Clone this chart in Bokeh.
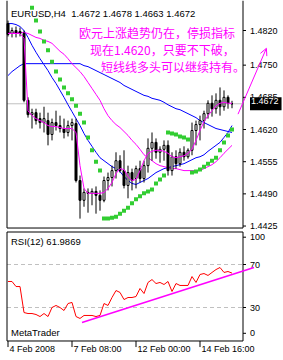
from bokeh.plotting import figure
from bokeh.layouts import column
from bokeh.models import Label, Range1d, Arrow, OpenHead
from bokeh.core.properties import value
from bokeh.embed import file_html
from bokeh.resources import INLINE

FONT = "Liberation Sans"
CJK = "Noto Sans CJK SC"

# ---------------- data ----------------
x_tick_bars = [0, 16, 32, 48]
x_tick_labels = ["4 Feb 2008", "7 Feb 08:00", "12 Feb 00:00", "14 Feb 16:00"]
price_ticks = [1.4425, 1.4490, 1.4555, 1.4620, 1.4685, 1.4750, 1.4820]
price_tick_labels = ["1.4425", "1.4490", "1.4555", "1.4620", "1.4685", "1.4750", "1.4820"]
rsi_tick_pos = [6, 30, 70, 95.4]
rsi_tick_labels = ["0", "30", "70", "100"]
rsi_levels = [30, 70]

opens = [1.4834, 1.4814, 1.4820, 1.4818, 1.4814, 1.4679, 1.4650, 1.4654, 1.4642, 1.4634,
         1.4638, 1.4610, 1.4634, 1.4628, 1.4622, 1.4614, 1.4628, 1.4632, 1.4517, 1.4477,
         1.4493, 1.4491, 1.4495, 1.4487, 1.4477, 1.4517, 1.4523, 1.4537, 1.4557, 1.4537,
         1.4507, 1.4533, 1.4521, 1.4541, 1.4521, 1.4547, 1.4582, 1.4594, 1.4574, 1.4580,
         1.4588, 1.4537, 1.4565, 1.4551, 1.4574, 1.4565, 1.4578, 1.4618, 1.4630, 1.4638,
         1.4652, 1.4673, 1.4662, 1.4679, 1.4666, 1.4685, 1.4672]
highs = [1.4840, 1.4826, 1.4828, 1.4826, 1.4820, 1.4685, 1.4662, 1.4662, 1.4654, 1.4666,
         1.4654, 1.4642, 1.4658, 1.4648, 1.4642, 1.4638, 1.4642, 1.4642, 1.4527, 1.4501,
         1.4501, 1.4501, 1.4505, 1.4497, 1.4525, 1.4533, 1.4547, 1.4574, 1.4568, 1.4578,
         1.4547, 1.4541, 1.4547, 1.4557, 1.4557, 1.4602, 1.4614, 1.4602, 1.4586, 1.4598,
         1.4598, 1.4574, 1.4578, 1.4582, 1.4586, 1.4582, 1.4634, 1.4638, 1.4648, 1.4658,
         1.4679, 1.4689, 1.4693, 1.4705, 1.4699, 1.4689, 1.4678]
lows = [1.4808, 1.4806, 1.4806, 1.4808, 1.4675, 1.4644, 1.4622, 1.4630, 1.4622, 1.4614,
        1.4588, 1.4598, 1.4618, 1.4614, 1.4602, 1.4606, 1.4598, 1.4513, 1.4440, 1.4464,
        1.4452, 1.4467, 1.4450, 1.4456, 1.4473, 1.4497, 1.4505, 1.4521, 1.4533, 1.4501,
        1.4481, 1.4497, 1.4501, 1.4513, 1.4513, 1.4533, 1.4557, 1.4561, 1.4553, 1.4557,
        1.4527, 1.4527, 1.4541, 1.4545, 1.4557, 1.4561, 1.4568, 1.4588, 1.4598, 1.4622,
        1.4642, 1.4646, 1.4652, 1.4648, 1.4658, 1.4662, 1.4663]
closes = [1.4812, 1.4820, 1.4816, 1.4814, 1.4679, 1.4650, 1.4654, 1.4638, 1.4634, 1.4642,
          1.4610, 1.4634, 1.4628, 1.4622, 1.4614, 1.4628, 1.4634, 1.4517, 1.4477, 1.4493,
          1.4491, 1.4495, 1.4487, 1.4477, 1.4517, 1.4523, 1.4537, 1.4557, 1.4537, 1.4507,
          1.4533, 1.4517, 1.4541, 1.4521, 1.4547, 1.4582, 1.4594, 1.4574, 1.4580, 1.4588,
          1.4537, 1.4565, 1.4551, 1.4574, 1.4565, 1.4578, 1.4618, 1.4630, 1.4638, 1.4652,
          1.4673, 1.4662, 1.4679, 1.4666, 1.4685, 1.4673, 1.4672]

ma_magenta_fast = [1.4814, 1.4814, 1.4814, 1.4814, 1.4804, 1.4658, 1.4648, 1.4642, 1.4638, 1.4634,
                   1.4628, 1.4626, 1.4626, 1.4624, 1.4622, 1.4622, 1.4622, 1.4614, 1.4547, 1.4501,
                   1.4491, 1.4491, 1.4491, 1.4491, 1.4493, 1.4501, 1.4513, 1.4531, 1.4541, 1.4539,
                   1.4525, 1.4517, 1.4519, 1.4537, 1.4557, 1.4572, 1.4576, 1.4578, 1.4578, 1.4576,
                   1.4572, 1.4565, 1.4563, 1.4565, 1.4567, 1.4572, 1.4580, 1.4598, 1.4618, 1.4636,
                   1.4648, 1.4658, 1.4668, 1.4673, 1.4675, 1.4673, 1.4673]
ma_magenta_slow = [1.4816, 1.4816, 1.4816, 1.4816, 1.4816, 1.4814, 1.4810, 1.4806, 1.4804, 1.4800,
                   1.4798, 1.4794, 1.4786, 1.4778, 1.4772, 1.4763, 1.4753, 1.4745, 1.4737, 1.4727,
                   1.4715, 1.4703, 1.4691, 1.4679, 1.4662, 1.4648, 1.4638, 1.4630, 1.4624, 1.4616,
                   1.4608, 1.4598, 1.4590, 1.4580, 1.4569, 1.4563, 1.4557, 1.4551, 1.4547, 1.4545,
                   1.4543, 1.4541, 1.4541, 1.4539, 1.4537, 1.4537, 1.4537, 1.4537, 1.4537, 1.4541,
                   1.4545, 1.4549, 1.4555, 1.4563, 1.4572, 1.4580, 1.4588]
ma_blue_fast = [1.4834, 1.4834, 1.4832, 1.4828, 1.4820, 1.4806, 1.4790, 1.4776, 1.4763, 1.4751,
                1.4739, 1.4725, 1.4713, 1.4699, 1.4685, 1.4670, 1.4656, 1.4642, 1.4628, 1.4612,
                1.4598, 1.4586, 1.4574, 1.4563, 1.4557, 1.4551, 1.4545, 1.4541, 1.4535, 1.4525,
                1.4517, 1.4511, 1.4509, 1.4513, 1.4517, 1.4521, 1.4527, 1.4533, 1.4537, 1.4541,
                1.4543, 1.4545, 1.4547, 1.4549, 1.4551, 1.4555, 1.4559, 1.4563, 1.4565, 1.4569,
                1.4576, 1.4582, 1.4588, 1.4594, 1.4604, 1.4614, 1.4628]
ma_blue_slow = [1.4729, 1.4737, 1.4743, 1.4749, 1.4753, 1.4753, 1.4753, 1.4753, 1.4753, 1.4753,
                1.4753, 1.4753, 1.4753, 1.4753, 1.4753, 1.4753, 1.4753, 1.4753, 1.4753, 1.4749,
                1.4747, 1.4743, 1.4739, 1.4735, 1.4731, 1.4727, 1.4723, 1.4719, 1.4715, 1.4709,
                1.4705, 1.4701, 1.4697, 1.4693, 1.4689, 1.4687, 1.4683, 1.4681, 1.4679, 1.4675,
                1.4670, 1.4666, 1.4662, 1.4660, 1.4656, 1.4652, 1.4648, 1.4644, 1.4638, 1.4634,
                1.4630, 1.4626, 1.4622, 1.4620, 1.4618, 1.4616, 1.4614]

sar_bars = list(range(6, 57))
sar_values = [1.4866, 1.4840, 1.4818, 1.4798, 1.4780, 1.4757, 1.4737, 1.4721, 1.4705, 1.4693,
              1.4681, 1.4668, 1.4652, 1.4634, 1.4604, 1.4578, 1.4555, 1.4537,
              1.4440, 1.4440, 1.4442, 1.4444, 1.4450, 1.4456, 1.4462, 1.4471, 1.4479, 1.4485,
              1.4491, 1.4495, 1.4499, 1.4511, 1.4519, 1.4527,
              1.4614, 1.4612, 1.4610, 1.4606, 1.4604, 1.4600,
              1.4533, 1.4535, 1.4539, 1.4545, 1.4551, 1.4557, 1.4563, 1.4578, 1.4594, 1.4608,
              1.4620]

rsi_values = [54.2, 54.2, 49.5, 49.5, 25.3, 24.4, 24.4, 23.5, 21.6, 24.4,
              21.6, 30.0, 31.9, 30.0, 27.2, 33.7, 34.7, 21.6, 19.8, 22.6,
              22.6, 22.6, 21.6, 22.6, 33.7, 31.9, 39.3, 45.8, 44.0, 37.4,
              39.3, 39.3, 40.2, 47.7, 43.0, 53.3, 56.0, 52.3, 53.3, 51.4,
              54.2, 44.9, 52.3, 50.5, 50.5, 50.5, 58.8, 53.3, 60.7, 61.6,
              59.8, 62.6, 65.3, 67.2, 62.6, 63.5, 61.99]

last_price = 1.4672
last_price_label = "1.4672"
title_text = "EURUSD,H4 \u00a01.4672 1.4678 1.4663 1.4672"
rsi_title = "RSI(12) 61.9869"
note_lines = ["欧元上涨趋势仍在，停损指标", "现在1.4620，只要不下破，", "短线线多头可以继续持有。"]
note_bars = [17.75, 20.5, 23.25]
note_prices = [1.4816, 1.4782, 1.4747]
arrow_bars = [57.5, 64.6]
arrow_prices = [1.4651, 1.4784]
trend_bars = [18.5, 61.5]
trend_rsi = [16.0, 67.2]

bars = list(range(len(closes)))

# ---------------- geometry (MetaTrader-like window) ----------------
XR = (-0.625, 68.875)          # 4 px per bar across the whole window width
PY = (1.44160, 1.48806)        # price panel vertical range
RY = (-19.30, 101.63)          # RSI panel vertical range
B_LEFT, B_RIGHT = -0.25, 58.75 # panel borders (bar units)
P_BOTTOM = 1.44210             # price panel bottom border
R_TOP, R_BOTTOM = 100.23, -1.16  # RSI panel borders
TICK_END = 59.5                # end of scale tick marks
LABEL_X = 60.5                 # scale label start
DATE_TICK_END = -6.8           # end of date tick marks (RSI units)
DATE_LABEL_Y = -8.3

lab_font = dict(text_font=value(FONT), text_font_size=value("9px"), text_color="black",
                text_align="left", text_baseline="middle")

# ---------------- main price panel ----------------
main = figure(width=283, height=230, output_backend="svg", toolbar_location=None,
              x_range=Range1d(*XR), y_range=Range1d(*PY),
              x_axis_location=None, y_axis_location=None,
              min_border_left=5, min_border_right=0, min_border_top=0, min_border_bottom=0)
main.grid.visible = False
main.outline_line_color = None
main.background_fill_color = "white"
main.border_fill_color = "white"

# current price line
main.segment(x0=[B_LEFT], y0=[last_price], x1=[B_RIGHT], y1=[last_price],
             line_color="#C0C0C0", line_width=1, level="underlay")

main.line(bars, ma_blue_slow, line_color="#0000FF", line_width=1)
main.line(bars, ma_blue_fast, line_color="#0000FF", line_width=1)
main.line(bars, ma_magenta_slow, line_color="#FF00FF", line_width=1)

main.segment(x0=bars, y0=lows, x1=bars, y1=highs, line_color="black", line_width=1)
body_top = [max(o, c) for o, c in zip(opens, closes)]
body_bot = [min(o, c) for o, c in zip(opens, closes)]
body_fill = ["white" if c >= o else "black" for o, c in zip(opens, closes)]
main.vbar(x=bars, top=body_top, bottom=body_bot, width=0.5, fill_color=body_fill,
          line_color="black", line_width=1)

main.line(bars, ma_magenta_fast, line_color="#FF00FF", line_width=1)

main.scatter(sar_bars, sar_values, marker="square", size=4, fill_color="#32CD32",
             line_color=None)

# panel border (left, bottom, right; open at the top as in the reference)
main.line([B_LEFT, B_LEFT, B_RIGHT, B_RIGHT], [PY[1], P_BOTTOM, P_BOTTOM, PY[1]],
          line_color="black", line_width=1)

# price scale
main.segment(x0=[B_RIGHT] * len(price_ticks), y0=price_ticks,
             x1=[TICK_END] * len(price_ticks), y1=price_ticks,
             line_color="black", line_width=1)
main.text(x=[LABEL_X] * len(price_ticks), y=price_ticks, text=price_tick_labels, **lab_font)

main.add_layout(Label(x=0.75, y=1.4854, text=title_text, text_font=FONT,
                      text_font_size="9.5px", text_color="black", text_baseline="middle"))
for t, xb, yp in zip(note_lines, note_bars, note_prices):
    main.add_layout(Label(x=xb, y=yp, text=t, text_font=CJK, text_font_size="12px",
                          text_color="#FF00FF", text_baseline="middle"))

main.add_layout(Label(x=LABEL_X, y=last_price, text=last_price_label, text_font=FONT,
                      text_font_size="9px", text_color="white", text_baseline="middle",
                      background_fill_color="black", padding=(1, 3, 1, 6)))

main.add_layout(Arrow(x_start=arrow_bars[0], y_start=arrow_prices[0],
                      x_end=arrow_bars[1], y_end=arrow_prices[1],
                      line_color="#FF00FF", line_width=1,
                      end=OpenHead(size=7, line_color="#FF00FF", line_width=1)))

# ---------------- RSI panel ----------------
rsi = figure(width=283, height=130, output_backend="svg", toolbar_location=None,
             x_range=main.x_range, y_range=Range1d(*RY),
             x_axis_location=None, y_axis_location=None,
             min_border_left=5, min_border_right=0, min_border_top=0, min_border_bottom=0)
rsi.grid.visible = False
rsi.outline_line_color = None
rsi.background_fill_color = "white"
rsi.border_fill_color = "white"

rsi.segment(x0=[B_LEFT] * 2, y0=rsi_levels, x1=[B_RIGHT] * 2, y1=rsi_levels,
            line_color="#C0C0C0", line_width=1, line_dash="4 3", level="underlay")

rsi.line(bars, rsi_values, line_color="#FF0000", line_width=1)

# panel border
rsi.quad(left=[B_LEFT], right=[B_RIGHT], bottom=[R_BOTTOM], top=[R_TOP],
         fill_color=None, line_color="black", line_width=1)

# RSI scale
rsi.segment(x0=[B_RIGHT] * len(rsi_tick_pos), y0=rsi_tick_pos,
            x1=[TICK_END] * len(rsi_tick_pos), y1=rsi_tick_pos,
            line_color="black", line_width=1)
rsi.text(x=[LABEL_X] * len(rsi_tick_pos), y=rsi_tick_pos, text=rsi_tick_labels, **lab_font)

# time scale: tick at each label's left edge
rsi.segment(x0=x_tick_bars, y0=[R_BOTTOM] * len(x_tick_bars),
            x1=x_tick_bars, y1=[DATE_TICK_END] * len(x_tick_bars),
            line_color="black", line_width=1)
rsi.text(x=[b + 0.35 for b in x_tick_bars], y=[DATE_LABEL_Y] * len(x_tick_bars),
         text=x_tick_labels, **lab_font)

rsi.line(trend_bars, trend_rsi, line_color="#FF00FF", line_width=1.5)

rsi.add_layout(Label(x=0.75, y=91.7, text=rsi_title, text_font=FONT,
                     text_font_size="9.5px", text_color="black", text_baseline="middle"))
rsi.add_layout(Label(x=0.75, y=7.0, text="MetaTrader", text_font=FONT,
                     text_font_size="9.5px", text_color="black", text_baseline="middle"))

layout = column(main, rsi, spacing=0)
open("out.html", "w").write(file_html(layout, INLINE))
